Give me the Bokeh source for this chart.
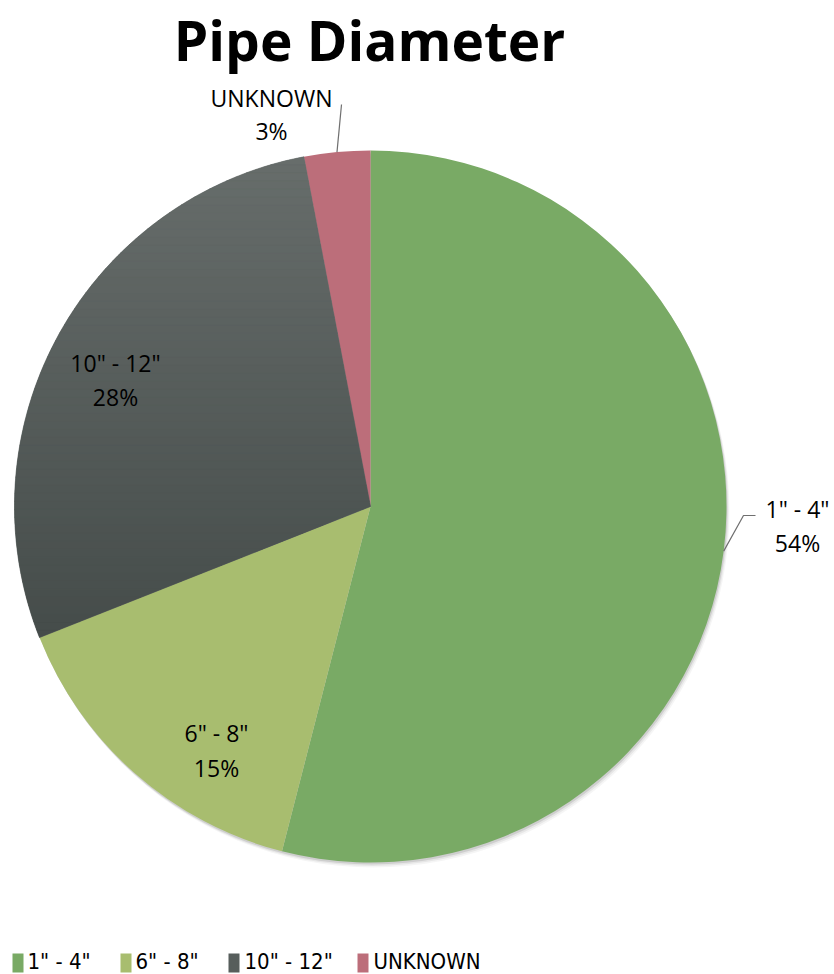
import numpy as np
from bokeh.plotting import figure
from bokeh.models import Range1d
from bokeh.core.properties import value
from bokeh.embed import file_html
from bokeh.resources import INLINE

# ---------------- data ----------------
title = "Pipe Diameter"
categories = ['1" - 4"', '6" - 8"', '10" - 12"', 'UNKNOWN']
shares = [54, 15, 28, 3]
colors = ["#79aa65", "#a8bd6f", "#555c5a", "#bc6e7a"]
gray_top, gray_bottom = "#676d6b", "#454c4a"

# ---------------- layout ----------------
W, H = 834, 974
def Y(py):
    return H - py

cx, cy, R = 370.0, Y(506), 356.0

p = figure(width=W, height=H, x_range=Range1d(0, W), y_range=Range1d(0, H),
           output_backend="svg", toolbar_location=None, min_border=0,
           x_axis_type=None, y_axis_type=None)
p.grid.visible = False
p.outline_line_color = None
p.background_fill_color = "white"
p.border_fill_color = "white"

# soft shadow (bottom/right)
for off, a in [((3, -5), 0.04), ((2, -3.5), 0.06), ((1, -2), 0.10)]:
    p.circle(x=[cx + off[0]], y=[cy + off[1]], radius=R, fill_color="black",
             fill_alpha=a, line_color=None)

fr = np.array(shares, dtype=float) / sum(shares)
cum = np.cumsum(fr)
start_cw = cum - fr
end_cw = cum
start_ang = 90 - end_cw * 360
end_ang = 90 - start_cw * 360

n = len(shares)
p.wedge(x=[cx] * n, y=[cy] * n, radius=R, start_angle=list(start_ang), end_angle=list(end_ang),
        start_angle_units="deg", end_angle_units="deg",
        fill_color=colors, line_color=None, direction="anticlock")

# gradient on 10"-12" slice
def clip(pts, y0, keep_above):
    out = []
    m = len(pts)
    for i in range(m):
        a = pts[i]; b = pts[(i + 1) % m]
        ina = a[1] >= y0 if keep_above else a[1] <= y0
        inb = b[1] >= y0 if keep_above else b[1] <= y0
        if ina:
            out.append(a)
        if ina != inb:
            t = (y0 - a[1]) / (b[1] - a[1])
            out.append((a[0] + t * (b[0] - a[0]), y0))
    return out

gi = 2
th = np.radians(np.linspace(start_ang[gi], end_ang[gi], 200))
poly = [(cx, cy)] + [(cx + R * np.cos(t), cy + R * np.sin(t)) for t in th]
ys_all = [q[1] for q in poly]
ymin, ymax = min(ys_all), max(ys_all)
nb = 60
edges = np.linspace(ymin, ymax, nb + 1)
def hex2rgb(h):
    return np.array([int(h[i:i + 2], 16) for i in (1, 3, 5)], dtype=float)
ct, cb = hex2rgb(gray_top), hex2rgb(gray_bottom)
bxs, bys, bcs = [], [], []
for k in range(nb):
    seg = clip(clip(poly, edges[k], True), edges[k + 1], False)
    if len(seg) < 3:
        continue
    t = (0.5 * (edges[k] + edges[k + 1]) - ymin) / (ymax - ymin)
    c = cb + (ct - cb) * t
    bcs.append("#%02x%02x%02x" % tuple(int(round(v)) for v in c))
    bxs.append([q[0] for q in seg]); bys.append([q[1] for q in seg])
p.patches(xs=bxs, ys=bys, fill_color=bcs, line_color=bcs, line_width=0.6)

# ---------------- labels ----------------
label_font = value("Open Sans")
label_pos = [(797, 508, 542), (216, 732, 767), (115, 362, 396), (271, 97, 130)]
for cat, s, (lx, l1, l2) in zip(categories, shares, label_pos):
    p.text(x=[lx], y=[Y(l1)], text=[cat], text_font=label_font, text_font_size="23px",
           text_align="center", text_baseline="middle", text_color="black")
    p.text(x=[lx], y=[Y(l2)], text=[f"{s}%"], text_font=label_font, text_font_size="23px",
           text_align="center", text_baseline="middle", text_color="black")

# leader lines from mid-angle edge points
mid_cw = (start_cw + end_cw) / 2
def edge_pt(i, rr=R):
    a = np.radians(90 - mid_cw[i] * 360)
    return cx + rr * np.cos(a), cy + rr * np.sin(a)
ex, ey = edge_pt(0)
p.line(x=[ex, 743, 755], y=[ey, Y(515), Y(515)], line_color="#6f6f6f", line_width=1.2)
ex, ey = edge_pt(3)
p.line(x=[ex, 341], y=[ey, Y(104)], line_color="#6f6f6f", line_width=1.2)

# title
p.text(x=[369], y=[Y(1)], text=[title], text_font=value("Open Sans"), text_font_size="55px",
       text_font_style="bold", text_align="center", text_baseline="top", text_color="black")

# ---------------- legend ----------------
sq_x = [12, 120, 228, 357]
tx_x = [27, 135, 244, 373]
leg_y = Y(961)
p.rect(x=[x + 5.5 for x in sq_x], y=[Y(962.5)] * 4, width=11, height=19,
       fill_color=[colors[0], colors[1], "#575e5c", colors[3]], line_color=None)
p.text(x=tx_x, y=[leg_y] * 4, text=categories, text_font=value("DejaVu Sans Condensed"),
       text_font_size="22px", text_align="left", text_baseline="middle", text_color="black")

open("out.html", "w").write(file_html(p, INLINE))
